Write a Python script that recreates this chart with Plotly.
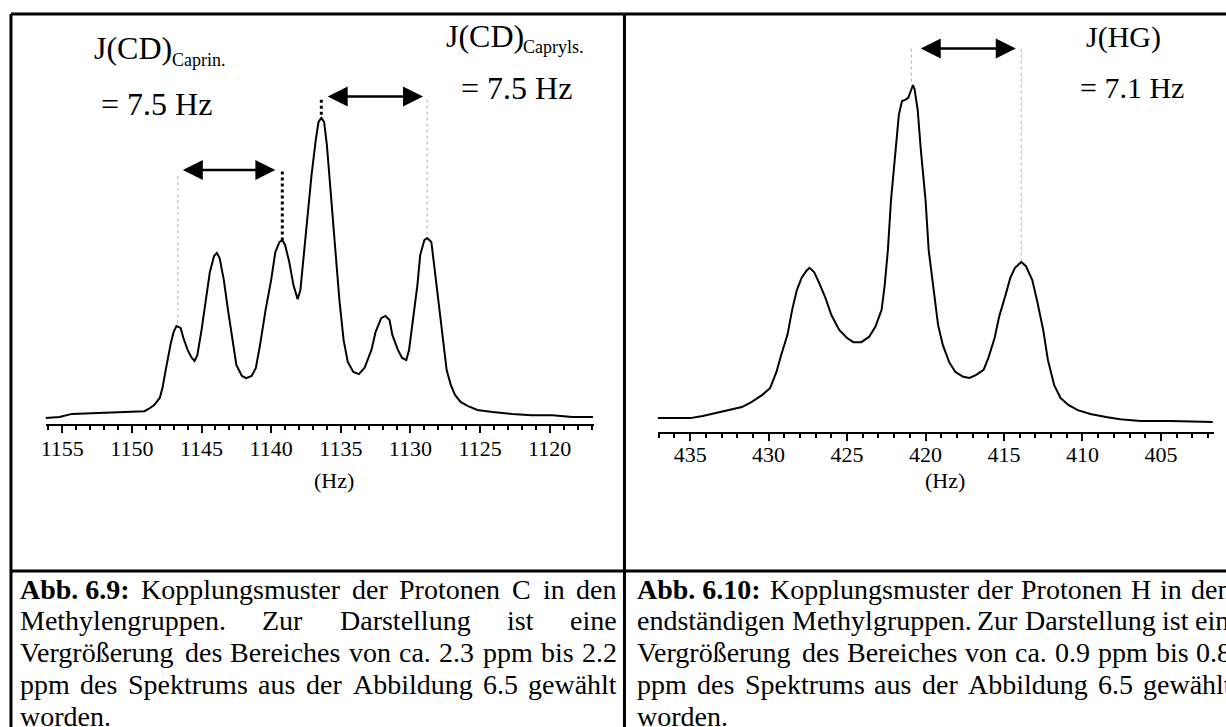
import plotly.graph_objects as go

W, H = 1226, 727

# ---------------- data ----------------
# Abb. 6.9 : methylene protons C  (frequency in Hz, relative intensity)
left_hz = [1156.2, 1155.2, 1154.3, 1152.7, 1151.3, 1149.1, 1148.8, 1148.4, 1148.0, 1147.8,
           1147.6, 1147.4, 1147.2, 1147.0, 1146.8, 1146.5, 1146.3, 1146.0, 1145.7, 1145.5,
           1145.3, 1145.0, 1144.7, 1144.4, 1144.1, 1143.9, 1143.7, 1143.4, 1143.1, 1142.8,
           1142.5, 1142.1, 1141.8, 1141.4, 1141.1, 1140.8, 1140.4, 1140.0, 1139.7, 1139.4,
           1139.2, 1139.0, 1138.7, 1138.4, 1138.1, 1137.9, 1137.7, 1137.4, 1137.1, 1136.8,
           1136.6, 1136.4, 1136.2, 1136.0, 1135.7, 1135.4, 1135.1, 1134.8, 1134.5, 1134.1,
           1133.7, 1133.3, 1132.8, 1132.5, 1132.1, 1131.8, 1131.5, 1131.3, 1130.9, 1130.6,
           1130.3, 1130.1, 1129.8, 1129.5, 1129.3, 1129.0, 1128.8, 1128.5, 1128.3, 1128.0,
           1127.7, 1127.4, 1127.1, 1126.8, 1126.4, 1125.9, 1125.2, 1124.1, 1122.7, 1121.3,
           1119.8, 1118.4, 1116.9]
left_int = [2.0, 2.3, 3.3, 3.6, 3.9, 4.2, 4.9, 6.2, 8.5, 11.8,
            17.0, 22.2, 26.5, 30.1, 32.0, 31.4, 28.1, 24.2, 21.6, 20.6,
            22.5, 30.7, 40.5, 49.7, 54.9, 55.9, 54.2, 47.1, 37.3, 27.5,
            19.3, 15.7, 15.0, 15.7, 18.3, 25.8, 37.3, 47.1, 56.2, 59.5,
            60.1, 58.5, 52.9, 45.4, 40.8, 43.8, 53.6, 66.7, 81.4, 92.8,
            98.7, 100.0, 98.7, 91.2, 74.8, 56.9, 40.5, 27.5, 20.3, 17.0,
            16.3, 18.3, 24.2, 30.1, 34.6, 35.3, 34.0, 29.1, 24.2, 21.6,
            20.9, 24.2, 34.0, 45.4, 55.2, 60.1, 60.8, 59.5, 52.0, 40.5,
            27.5, 17.6, 12.7, 9.5, 7.2, 5.9, 4.6, 3.9, 3.3, 2.9,
            2.9, 2.3, 2.3]

# Abb. 6.10 : terminal methyl protons H
right_hz = [437.1, 435.0, 434.2, 433.6, 432.7, 431.7, 431.1, 430.4, 429.9, 429.5,
            429.2, 428.8, 428.5, 428.2, 427.9, 427.6, 427.4, 427.1, 426.8, 426.4,
            426.0, 425.5, 425.0, 424.6, 424.1, 423.6, 423.2, 422.8, 422.6, 422.4,
            422.2, 421.9, 421.7, 421.5, 421.3, 421.1, 420.9, 420.8, 420.7, 420.5,
            420.3, 420.0, 419.8, 419.5, 419.2, 418.9, 418.5, 418.1, 417.6, 417.2,
            416.8, 416.3, 416.0, 415.6, 415.3, 414.9, 414.6, 414.3, 413.9, 413.6,
            413.2, 412.9, 412.5, 412.2, 411.8, 411.4, 410.9, 410.3, 409.5, 408.5,
            407.6, 406.3, 404.4, 401.7]
right_int = [4.0, 4.0, 4.6, 5.2, 6.1, 7.2, 8.6, 10.7, 12.7, 17.3,
             22.2, 28.0, 35.2, 40.9, 44.4, 46.4, 47.3, 46.1, 43.2, 38.9,
             33.7, 29.4, 27.1, 25.9, 25.9, 27.4, 30.3, 35.2, 42.4, 52.4,
             66.9, 81.3, 91.4, 95.4, 95.7, 96.3, 98.6, 100.0, 98.8, 92.8,
             81.3, 66.9, 52.4, 40.9, 30.8, 25.1, 20.2, 17.3, 15.9, 15.6,
             16.4, 17.9, 21.3, 27.1, 33.4, 39.5, 44.4, 47.3, 49.0, 47.8,
             43.8, 38.0, 29.4, 20.7, 13.5, 9.8, 7.8, 6.3, 5.2, 4.3,
             3.7, 3.2, 3.2, 2.9]

left_ticks = [1155, 1150, 1145, 1140, 1135, 1130, 1125, 1120]
right_ticks = [435, 430, 425, 420, 415, 410, 405]
left_range = [1156.2, 1116.85]
right_range = [437.06, 401.64]

# coupling markers: (peak A, peak B) in Hz
caprin_peaks = [1146.7, 1139.2]
capryls_peaks = [1136.4, 1128.8]
hg_peaks = [420.9, 413.9]
caprin_peak_int = [32.0, 60.1]
capryls_peak_int = [100.0, 60.8]
hg_peak_int = [100.0, 49.0]

label_caprin = ["J(CD)", "Caprin.", "= 7.5 Hz"]
label_capryls = ["J(CD)", "Capryls.", "= 7.5 Hz"]
label_hg = ["J(HG)", "= 7.1 Hz"]
axis_unit = "(Hz)"

caption_left = [
    ["<b>Abb. 6.9:</b>", "Kopplungsmuster", "der", "Protonen", "C", "in", "den"],
    ["Methylengruppen.", "Zur", "Darstellung", "ist", "eine"],
    ["Vergrößerung", "des", "Bereiches", "von", "ca.", "2.3", "ppm", "bis", "2.2"],
    ["ppm", "des", "Spektrums", "aus", "der", "Abbildung", "6.5", "gewählt"],
    ["worden."],
]
caption_right = [
    ["<b>Abb. 6.10:</b>", "Kopplungsmuster", "der", "Protonen", "H", "in", "den"],
    ["endständigen", "Methylgruppen.", "Zur", "Darstellung", "ist", "eine"],
    ["Vergrößerung", "des", "Bereiches", "von", "ca.", "0.9", "ppm", "bis", "0.8"],
    ["ppm", "des", "Spektrums", "aus", "der", "Abbildung", "6.5", "gewählt"],
    ["worden."],
]

# ---------------- layout helpers ----------------
FONT = "Liberation Serif, Times New Roman, serif"


def px(x):
    return x / W


def py(y):
    return 1 - y / H


# Times / Liberation Serif advance widths (1/1000 em)
REG = {' ': 250, '.': 250, ':': 278, ',': 250, '(': 333, ')': 333, '=': 564,
       'a': 444, 'b': 500, 'c': 444, 'd': 500, 'e': 444, 'f': 333, 'g': 500, 'h': 500,
       'i': 278, 'j': 278, 'k': 500, 'l': 278, 'm': 778, 'n': 500, 'o': 500, 'p': 500,
       'q': 500, 'r': 333, 's': 389, 't': 278, 'u': 500, 'v': 500, 'w': 722, 'x': 500,
       'y': 500, 'z': 444, 'ä': 444, 'ö': 500, 'ü': 500, 'ß': 500,
       'A': 722, 'B': 667, 'C': 667, 'D': 722, 'E': 611, 'H': 722, 'K': 722, 'M': 889,
       'P': 556, 'S': 556, 'V': 722, 'Z': 611}
BOLD = {' ': 250, '.': 250, ':': 333, 'A': 722, 'b': 556}


def word_width(w, size):
    bold = w.startswith("<b>")
    s = w.replace("<b>", "").replace("</b>", "")
    tab = BOLD if bold else REG
    return sum(tab.get(ch, REG.get(ch, 500)) for ch in s) * size / 1000.0


# ---------------- figure ----------------
fig = go.Figure()
fig.add_trace(go.Scatter(x=left_hz, y=left_int, mode="lines", xaxis="x", yaxis="y",
                         line=dict(color="black", width=2), showlegend=False, hoverinfo="skip"))
fig.add_trace(go.Scatter(x=right_hz, y=right_int, mode="lines", xaxis="x2", yaxis="y2",
                         line=dict(color="black", width=2), showlegend=False, hoverinfo="skip"))

L_AXIS_Y, R_AXIS_Y, TOP_Y = 424, 432, 14
L_PPU, R_PPU = 3.06, 3.47  # pixels per intensity unit

xaxis_common = dict(showgrid=False, zeroline=False, showline=True, linecolor="black", linewidth=2,
                    ticks="outside", ticklen=7, tickwidth=2, tickcolor="black",
                    tickfont=dict(family=FONT, size=22, color="black"),
                    minor=dict(dtick=1, ticks="outside", ticklen=4, tickwidth=1.5, tickcolor="black"),
                    fixedrange=True)
fig.update_layout(
    width=W, height=H, margin=dict(l=0, r=0, t=0, b=0),
    paper_bgcolor="white", plot_bgcolor="white",
    xaxis=dict(domain=[px(40.7), px(591)], range=left_range, anchor="y", ticklabelstandoff=-3,
               tickvals=left_ticks, ticktext=[str(v) for v in left_ticks], **xaxis_common),
    yaxis=dict(domain=[py(L_AXIS_Y), py(TOP_Y)], range=[0, (L_AXIS_Y - TOP_Y) / L_PPU],
               visible=False, anchor="x"),
    xaxis2=dict(domain=[px(655.5), px(1213.6)], range=right_range, anchor="y2", ticklabelstandoff=-5,
                tickvals=right_ticks, ticktext=[str(v) for v in right_ticks], **xaxis_common),
    yaxis2=dict(domain=[py(R_AXIS_Y), py(TOP_Y)], range=[0, (R_AXIS_Y - TOP_Y) / R_PPU],
                visible=False, anchor="x2"),
)

shapes = []
# frame / table lines
for (x0, y0, x1, y1) in [(6, 14, 1226, 14), (6, 14, 6, 727), (622, 14, 622, 727), (6, 571, 1226, 571)]:
    shapes.append(dict(type="line", xref="paper", yref="paper", x0=px(x0), y0=py(y0), x1=px(x1), y1=py(y1),
                       line=dict(color="black", width=3)))


def vline(xr, yr, x, y0, y1, thick):
    if thick:
        line = dict(color="black", width=3, dash="dot")
    else:
        line = dict(color="#b0b0b0", width=1, dash="3px,3px")
    shapes.append(dict(type="line", xref=xr, yref=yr, x0=x, x1=x, y0=y0, y1=y1, line=line))


# Caprin: thin gray at first peak, thick dotted at second
vline("x", "y", caprin_peaks[0], 81.0, caprin_peak_int[0], False)
vline("x", "y", caprin_peaks[1], 82.5, caprin_peak_int[1], True)
# Capryls: thick dotted at main peak, thin gray at last peak
vline("x", "y", capryls_peaks[0], 106.0, capryls_peak_int[0], True)
vline("x", "y", capryls_peaks[1], 106.0, capryls_peak_int[1], False)
# HG
vline("x2", "y2", hg_peaks[0], 110.5, hg_peak_int[0], False)
vline("x2", "y2", hg_peaks[1], 110.5, hg_peak_int[1], False)
fig.update_layout(shapes=shapes)

ann = []


def double_arrow(xr, yr, xa, xb, y):
    ann.append(dict(xref=xr, yref=yr, axref=xr, ayref=yr, x=xb, y=y, ax=xa, ay=y, text="",
                    showarrow=True, arrowhead=2, startarrowhead=2, arrowside="end+start",
                    arrowwidth=2.5, arrowsize=1.6, startarrowsize=1.6, arrowcolor="black",
                    standoff=0, startstandoff=0))


double_arrow("x", "y", caprin_peaks[0] - 0.25, caprin_peaks[1] + 0.5, 83.0)
double_arrow("x", "y", capryls_peaks[0] - 0.35, capryls_peaks[1] + 0.3, 107.0)
double_arrow("x2", "y2", hg_peaks[0] - 0.5, hg_peaks[1] + 0.35, 110.5)


def text(x, y, s, size, anchor="left"):
    ann.append(dict(xref="paper", yref="paper", x=px(x), y=py(y), text=s, showarrow=False,
                    xanchor=anchor, yanchor="middle", font=dict(family=FONT, size=size, color="black")))


text(87, 48, label_caprin[0], 32)
text(166, 60, label_caprin[1], 18)
text(94, 104, label_caprin[2], 32)
text(441, 36, label_capryls[0], 32)
text(518, 47, label_capryls[1], 18)
text(456, 88, label_capryls[2], 32)
text(1083, 37, label_hg[0], 30)
text(1077, 87, label_hg[1], 30)
text(330, 480, axis_unit, 22, "center")
text(944, 480, axis_unit, 22, "center")

CAP_SIZE = 28
CAP_Y0, CAP_DY = 589, 31.8
MIN_GAP = 7.0


def caption(lines, left, right):
    for i, words in enumerate(lines):
        y = CAP_Y0 + i * CAP_DY
        widths = [word_width(w, CAP_SIZE) for w in words]
        if i == len(lines) - 1 or len(words) == 1:
            gap = REG[' '] * CAP_SIZE / 1000.0
        else:
            gap = max(MIN_GAP, (right - left - sum(widths)) / (len(words) - 1))
        x = left
        for w, wd in zip(words, widths):
            text(x, y, w, CAP_SIZE, "left")
            x += wd + gap


caption(caption_left, 13, 612)
caption(caption_right, 633, 1229)

fig.update_layout(annotations=ann)
fig.write_html("out.html")
